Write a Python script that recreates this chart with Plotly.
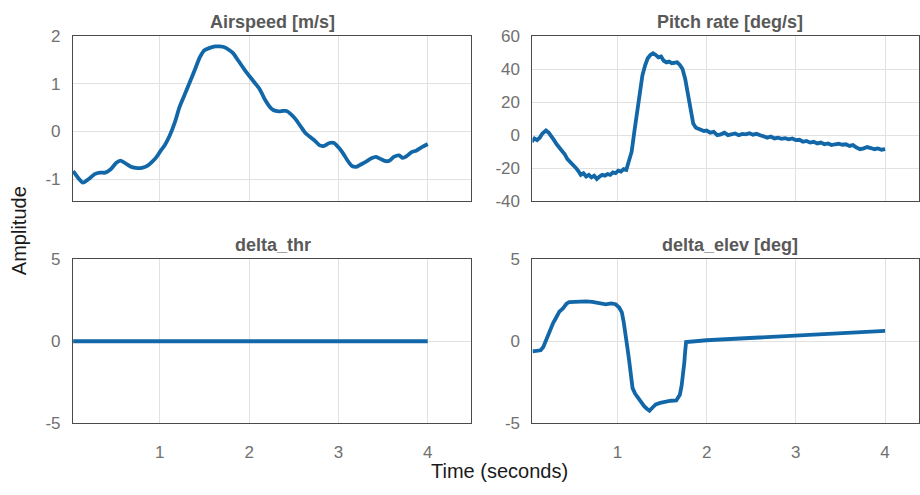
import plotly.graph_objects as go

W, H = 920, 495

# ---- data ----
t_air = [0.03, 0.09, 0.14, 0.20, 0.27, 0.33, 0.39, 0.45, 0.51, 0.56, 0.62, 0.67, 0.73, 0.80, 0.86, 0.91, 0.96, 1.00,
         1.06, 1.11, 1.17, 1.22, 1.28, 1.34, 1.40, 1.45, 1.50, 1.56, 1.62, 1.67, 1.73, 1.78, 1.82, 1.88, 1.95,
         2.02, 2.08, 2.12, 2.18, 2.23, 2.27, 2.33, 2.38, 2.42, 2.47, 2.52, 2.58, 2.63, 2.68, 2.74, 2.79, 2.84,
         2.90, 2.95, 3.00, 3.05, 3.10, 3.15, 3.20, 3.25, 3.31, 3.37, 3.42, 3.48, 3.53, 3.57, 3.62, 3.68, 3.72,
         3.76, 3.82, 3.87, 3.93, 4.00]
v_air = [-0.83, -0.98, -1.07, -1.00, -0.89, -0.86, -0.86, -0.79, -0.66, -0.61, -0.67, -0.73, -0.76, -0.76, -0.72, -0.64, -0.54, -0.43,
         -0.27, -0.09, 0.20, 0.51, 0.78, 1.05, 1.33, 1.56, 1.70, 1.75, 1.78, 1.78, 1.76, 1.70, 1.64, 1.48, 1.29,
         1.12, 0.98, 0.88, 0.66, 0.52, 0.45, 0.42, 0.43, 0.43, 0.36, 0.26, 0.10, -0.03, -0.11, -0.20, -0.29, -0.30,
         -0.24, -0.24, -0.33, -0.45, -0.60, -0.72, -0.74, -0.69, -0.63, -0.56, -0.53, -0.58, -0.62, -0.61, -0.53, -0.50, -0.55,
         -0.52, -0.43, -0.40, -0.33, -0.26]

t_pitch = [0.04, 0.07, 0.10, 0.13, 0.16, 0.20, 0.23, 0.26, 0.29, 0.32, 0.35, 0.38, 0.41, 0.44, 0.47, 0.50, 0.53, 0.56,
           0.59, 0.62, 0.65, 0.68, 0.71, 0.74, 0.77, 0.80, 0.83, 0.86, 0.89, 0.92, 0.95, 0.98, 1.01, 1.04, 1.07, 1.10,
           1.13, 1.16, 1.19, 1.22, 1.25, 1.28, 1.31, 1.34, 1.37, 1.40, 1.43, 1.46, 1.49, 1.52, 1.55, 1.58, 1.61, 1.64,
           1.67, 1.70, 1.73, 1.76, 1.79, 1.82, 1.85, 1.88, 1.91, 1.94, 1.97, 2.00, 2.04, 2.08, 2.12, 2.16, 2.20, 2.24,
           2.28, 2.32, 2.36, 2.40, 2.44, 2.48, 2.52, 2.56, 2.60, 2.64, 2.68, 2.72, 2.76, 2.80, 2.84, 2.88, 2.92, 2.96,
           3.00, 3.04, 3.08, 3.12, 3.16, 3.20, 3.24, 3.28, 3.32, 3.36, 3.40, 3.44, 3.48, 3.52, 3.56, 3.60, 3.64, 3.68,
           3.72, 3.76, 3.80, 3.84, 3.88, 3.92, 3.96, 4.00]
v_pitch = [-4.0, -2.0, -3.0, -1.5, 1.0, 2.8, 1.5, -0.5, -3.0, -5.5, -7.5, -10.0, -11.5, -14.5, -16.0, -17.5, -19.5, -21.5,
           -24.0, -23.0, -25.0, -24.0, -25.5, -24.5, -26.5, -25.0, -24.0, -24.5, -23.5, -24.0, -22.5, -23.0, -21.5, -22.0, -20.5, -21.0,
           -15.0, -10.0, 2.0, 14.0, 28.0, 36.0, 42.0, 46.5, 48.5, 49.5, 48.5, 47.0, 47.5, 45.0, 44.0, 44.5, 43.5, 44.0,
           44.0, 42.5, 40.0, 34.0, 24.0, 14.0, 7.0, 4.5, 4.0, 3.0, 2.5, 2.8, 1.5, 2.0, 0.0, 0.5, 1.5, 0.0,
           0.5, 1.0, 0.0, 0.8, 0.5, 1.2, 0.3, 0.8, 0.0, -0.5, -1.5, -0.8, -2.0, -1.5, -2.2, -1.8, -2.5, -2.0,
           -3.0, -2.8, -4.0, -3.5, -4.5, -4.0, -5.0, -4.5, -5.5, -5.0, -6.0, -5.5, -5.2, -5.8, -5.5, -6.5, -6.0, -7.5,
           -8.5, -8.0, -7.2, -7.8, -8.5, -8.0, -8.8, -8.4]

t_thr = [0.03, 1.0, 2.0, 3.0, 4.0]
v_thr = [0.0, 0.0, 0.0, 0.0, 0.0]

t_elev = [0.05, 0.10, 0.14, 0.17, 0.20, 0.24, 0.28, 0.31, 0.35, 0.39, 0.43, 0.46, 0.52, 0.58, 0.65, 0.72, 0.78, 0.82,
          0.87, 0.93, 0.98, 1.02, 1.05, 1.07, 1.09, 1.11, 1.13, 1.15, 1.17, 1.20, 1.24, 1.27, 1.30, 1.33, 1.36, 1.40,
          1.43, 1.48, 1.54, 1.60, 1.66, 1.70, 1.72, 1.74, 1.75, 1.76, 1.77, 2.0, 2.5, 3.0, 3.5, 4.0]
v_elev = [-0.62, -0.60, -0.55, -0.35, 0.06, 0.55, 1.10, 1.40, 1.80, 2.00, 2.28, 2.38, 2.40, 2.42, 2.42, 2.40, 2.34, 2.26,
          2.24, 2.30, 2.25, 2.05, 1.75, 1.20, 0.60, -0.30, -1.10, -2.00, -2.85, -3.20, -3.50, -3.75, -3.95, -4.10, -4.22, -4.00,
          -3.84, -3.75, -3.68, -3.62, -3.60, -3.25, -2.70, -2.00, -1.30, -0.60, -0.05, 0.06, 0.20, 0.35, 0.50, 0.63]

titles = ["Airspeed [m/s]", "Pitch rate [deg/s]", "delta_thr", "delta_elev [deg]"]
x_ticks = [1, 2, 3, 4]
y_ticks_air = [-1, 0, 1, 2]
y_ticks_pitch = [-40, -20, 0, 20, 40, 60]
y_ticks_ctrl = [-5, 0, 5]

LINE = "#1267a8"
GRID = "#e1e1e1"
AX = "#4a4a4a"
FONT = "Liberation Sans, Arial, sans-serif"
TICKF = dict(family=FONT, size=17, color="#707070")

# panel geometry in pixels (left, right, top, bottom)
panels = [
    (73, 472, 28, 200, [0.027, 4.49], [-1.46, 2.0], y_ticks_air, False),
    (533, 920, 28, 200, [0.048, 4.38], [-40, 60], y_ticks_pitch, False),
    (73, 472, 260, 431, [0.027, 4.49], [-5, 5], y_ticks_ctrl, True),
    (533, 920, 260, 431, [0.048, 4.38], [-5, 5], y_ticks_ctrl, True),
]
series = [(t_air, v_air, "spline"), (t_pitch, v_pitch, "linear"), (t_thr, v_thr, "linear"), (t_elev, v_elev, "linear")]
title_cx = [273, 731, 273, 731]
title_cy = [14, 14, 245, 245]

fig = go.Figure()
layout = dict(width=W, height=H, margin=dict(l=0, r=0, t=0, b=0),
              paper_bgcolor="white", plot_bgcolor="white", showlegend=False,
              font=dict(family=FONT))
annotations = []
for i, ((l, r, tp, bt, xr, yr, yt, showx), (tx, vy, shape), title) in enumerate(zip(panels, series, titles)):
    n = "" if i == 0 else str(i + 1)
    fig.add_trace(go.Scatter(x=tx, y=vy, mode="lines", xaxis="x" + n, yaxis="y" + n,
                             line=dict(color=LINE, width=3.8, shape=shape, smoothing=0.6), hoverinfo="skip"))
    layout["xaxis" + n] = dict(domain=[l / W, min(r / W, 1.0)], range=xr, anchor="y" + n,
                               tickvals=x_ticks, ticktext=[str(v) for v in x_ticks],
                               showticklabels=showx, tickfont=TICKF, ticklabelstandoff=13,
                               showgrid=True, gridcolor=GRID, gridwidth=1, zeroline=False,
                               showline=True, linecolor=AX, linewidth=1, mirror=True, ticks="")
    layout["yaxis" + n] = dict(domain=[1 - bt / H, 1 - tp / H], range=yr, anchor="x" + n,
                               tickvals=yt, ticktext=[str(v) for v in yt],
                               tickfont=TICKF, showgrid=True, gridcolor=GRID, gridwidth=1,
                               zeroline=False, showline=True, linecolor=AX, linewidth=1, mirror=True,
                               ticks="", ticklabelstandoff=8)
    annotations.append(dict(text="<b>" + title + "</b>", x=title_cx[i] / W,
                            y=1 - title_cy[i] / H, xref="paper", yref="paper", xanchor="center", yanchor="middle",
                            showarrow=False, font=dict(family=FONT, size=18, color="#595959")))

annotations.append(dict(text="Amplitude", x=19 / W, y=1 - 230 / H, xref="paper", yref="paper",
                        xanchor="center", yanchor="middle",
                        textangle=-90, showarrow=False, font=dict(family=FONT, size=20, color="#1a1a1a")))
annotations.append(dict(text="Time (seconds)", x=500 / W, y=1 - 480 / H, xref="paper", yref="paper",
                        xanchor="center", yanchor="middle",
                        showarrow=False, font=dict(family=FONT, size=20, color="#1a1a1a")))
layout["annotations"] = annotations
fig.update_layout(**layout)
fig.write_html("out.html")
